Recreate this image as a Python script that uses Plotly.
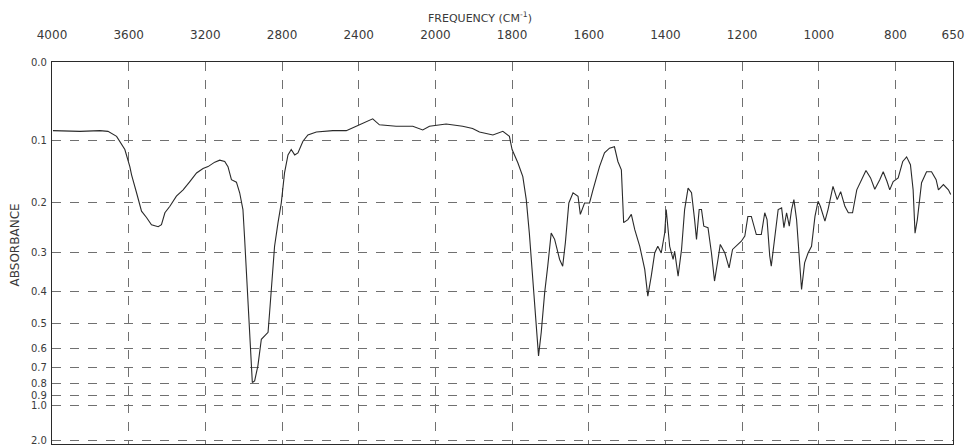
import numpy as np
import plotly.graph_objects as go

# Spectrum: wavenumber (cm^-1) and absorbance
wavenumber = [3995, 3854, 3750, 3708, 3663, 3620, 3594, 3585, 3559, 3533, 3507, 3481, 3446, 3429,
              3411, 3385, 3351, 3316, 3281, 3246, 3212, 3186, 3151, 3125, 3099, 3082, 3064, 3038,
              3021, 3004, 2995, 2986, 2978, 2969, 2960, 2955, 2943, 2926, 2908, 2873, 2865, 2851,
              2839, 2821, 2804, 2787, 2769, 2752, 2734, 2717, 2691, 2665, 2621, 2535, 2465, 2413,
              2361, 2327, 2292, 2205, 2118, 2066, 2031,
              1972, 1929, 1903, 1885, 1850, 1824, 1807, 1800, 1785, 1772, 1763, 1755, 1746, 1737,
              1731, 1724, 1715, 1707, 1698, 1689, 1676, 1668, 1661, 1652, 1641, 1628, 1622, 1611,
              1598, 1589, 1572, 1559, 1546, 1533, 1524, 1515, 1509, 1498, 1489, 1480, 1467, 1454,
              1446, 1437, 1428, 1420, 1411, 1402, 1398, 1389, 1380, 1376, 1367, 1358, 1350, 1341,
              1332, 1324, 1319, 1312, 1306, 1300, 1289, 1280, 1272, 1263, 1257, 1245, 1234, 1225,
              1215, 1202, 1193, 1185, 1176, 1170, 1163, 1150, 1141, 1135, 1128, 1124, 1115, 1106,
              1097, 1091, 1084, 1077, 1071, 1065, 1058, 1051, 1045, 1037, 1028, 1019, 1010, 1002,
              996, 984, 976, 963, 952, 943, 932, 923, 912, 901, 888, 877, 865, 854, 841, 832, 822,
              815, 806, 793, 781, 771, 761, 754, 749, 743, 732, 719, 706, 694, 688, 675, 662, 656]
absorbance = [0.086, 0.087, 0.086, 0.087, 0.094, 0.113, 0.139, 0.152, 0.182, 0.215, 0.227, 0.241, 0.245, 0.241,
              0.218, 0.206, 0.188, 0.177, 0.163, 0.149, 0.142, 0.139, 0.132, 0.129, 0.131, 0.139, 0.160, 0.164,
              0.182, 0.212, 0.271, 0.348, 0.442, 0.534, 0.689, 0.793, 0.782, 0.689, 0.562, 0.534, 0.464, 0.366,
              0.286, 0.237, 0.200, 0.149, 0.121, 0.113, 0.121, 0.118, 0.101, 0.092, 0.088, 0.086, 0.086, 0.080,
              0.074, 0.070, 0.078, 0.080, 0.080, 0.085, 0.080,
              0.077, 0.080, 0.083, 0.088, 0.092, 0.087, 0.094, 0.113, 0.133, 0.155, 0.194, 0.258, 0.374, 0.535,
              0.637, 0.535, 0.402, 0.332, 0.258, 0.271, 0.316, 0.332, 0.278, 0.200, 0.182, 0.188, 0.221, 0.200,
              0.200, 0.177, 0.139, 0.118, 0.111, 0.109, 0.131, 0.144, 0.237, 0.231, 0.221, 0.251, 0.286, 0.340,
              0.412, 0.357, 0.301, 0.286, 0.301, 0.258, 0.212, 0.286, 0.316, 0.297, 0.357, 0.293, 0.212, 0.174,
              0.182, 0.231, 0.271, 0.212, 0.212, 0.244, 0.247, 0.301, 0.370, 0.316, 0.282, 0.301, 0.336, 0.293,
              0.286, 0.275, 0.264, 0.225, 0.225, 0.244, 0.261, 0.261, 0.218, 0.231, 0.308, 0.332, 0.271, 0.212,
              0.209, 0.247, 0.218, 0.244, 0.212, 0.194, 0.231, 0.308, 0.393, 0.324, 0.301, 0.286, 0.225, 0.197,
              0.206, 0.234, 0.212, 0.171, 0.194, 0.180, 0.206, 0.218, 0.218, 0.177, 0.160, 0.145, 0.157, 0.176,
              0.160, 0.147, 0.163, 0.177, 0.163, 0.157, 0.131, 0.124, 0.136, 0.177, 0.258, 0.231, 0.165, 0.147,
              0.147, 0.160, 0.177, 0.168, 0.177, 0.185]

freq_ticks = [4000, 3600, 3200, 2800, 2400, 2000, 1800, 1600, 1400, 1200, 1000, 800, 650]
abs_ticks = [0.0, 0.1, 0.2, 0.3, 0.4, 0.5, 0.6, 0.7, 0.8, 0.9, 1.0, 2.0]
abs_tick_labels = ["0.0", "0.1", "0.2", "0.3", "0.4", "0.5", "0.6", "0.7", "0.8", "0.9", "1.0", "2.0"]


def chart_pos(wn):
    """Chart-paper scale: 400 cm-1 per division above 2000, 200 cm-1 per division below."""
    wn = np.asarray(wn, dtype=float)
    return np.where(wn >= 2000, (4000 - wn) / 400.0, 5 + (2000 - wn) / 200.0)


def to_transmittance(a):
    return 10 ** (-np.asarray(a, dtype=float))


ink = "#2a2a2a"
grid = "#707070"
text_col = "#3a3a3a"
font_family = "DejaVu Sans, Liberation Sans, sans-serif"

fig = go.Figure()
fig.add_trace(go.Scatter(
    x=chart_pos(wavenumber),
    y=to_transmittance(absorbance),
    mode="lines",
    line=dict(color=ink, width=1.1),
    hoverinfo="skip",
    showlegend=False,
))

fig.update_layout(
    width=969, height=448,
    margin=dict(l=52, r=16, t=62, b=2),
    paper_bgcolor="white",
    plot_bgcolor="white",
    font=dict(family=font_family, color=text_col, size=12),
    xaxis=dict(
        side="top",
        range=[float(chart_pos(4000)), float(chart_pos(650))],
        tickvals=chart_pos(freq_ticks).tolist(),
        ticktext=[str(v) for v in freq_ticks],
        ticks="outside", ticklen=17, tickcolor="rgba(255,255,255,0)",
        tickfont=dict(size=12, color=text_col),
        showgrid=True, gridcolor=grid, griddash="dash", gridwidth=1,
        showline=True, linecolor=ink, linewidth=1.2, mirror=True,
        zeroline=False, fixedrange=True,
    ),
    yaxis=dict(
        range=[0, 1],
        tickvals=to_transmittance(abs_ticks).tolist(),
        ticktext=abs_tick_labels,
        ticks="outside", ticklen=2, tickcolor="rgba(255,255,255,0)",
        tickfont=dict(size=10, color=text_col),
        ticklabeloverflow="allow",
        showgrid=True, gridcolor=grid, griddash="dash", gridwidth=1,
        showline=True, linecolor=ink, linewidth=1.2, mirror=True,
        zeroline=False, fixedrange=True,
    ),
    annotations=[
        dict(text="FREQUENCY (CM<sup>-1</sup>)", xref="paper", yref="paper",
             x=0.475, y=1.117, xanchor="center", yanchor="middle", showarrow=False,
             font=dict(size=11, color=text_col, family=font_family)),
        dict(text="ABSORBANCE", xref="paper", yref="paper",
             x=-0.041, y=0.52, xanchor="center", yanchor="middle", showarrow=False,
             textangle=-90, font=dict(size=12, color=text_col, family=font_family)),
    ],
)

fig.write_html(
    "out.html",
    config={"displayModeBar": False},
    post_script="document.body.style.margin='0px';document.body.style.overflow='hidden';",
)
